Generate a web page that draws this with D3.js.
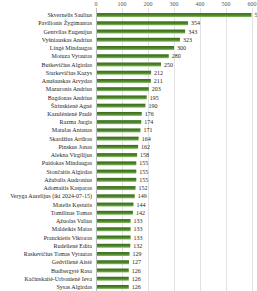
<!DOCTYPE html>
<html>
<head>
<meta charset="utf-8">
<script src="https://cdn.jsdelivr.net/npm/d3@7"></script>
<style>
  html, body { margin: 0; padding: 0; background: #fff; }
  svg { display: block; font-family: "Liberation Serif", "DejaVu Serif", serif; }
</style>
</head>
<body>
<div id="chart"></div>
<script>
const names = [
  'Skvernelis Saulius', 'Pavilionis Žygimantas', 'Gentvilas Eugenijus', 'Vyšniauskas Andrius',
  'Lingė Mindaugas', 'Motuza Vytautas', 'Butkevičius Algirdas', 'Starkevičius Kazys',
  'Anušauskas Arvydas', 'Mazuronis Andrius', 'Bagdonas Andrius', 'Širinskienė Agnė',
  'Kazulėnienė Paulė', 'Razma Jurgis', 'Matulas Antanas', 'Skardžius Artūras',
  'Pinskus Jonas', 'Alekna Virgilijus', 'Puidokas Mindaugas', 'Stončaitis Algirdas',
  'Ažubalis Audronius', 'Adomaitis Kasparas', 'Veryga Aurelijus (iki 2024-07-15)', 'Matelis Kęstutis',
  'Tomilinas Tomas', 'Ąžuolas Valius', 'Maldeikis Matas', 'Pranckietis Viktoras',
  'Rudelienė Edita', 'Raskevičius Tomas Vytautas', 'Gedvilienė Aistė', 'Budbergytė Rasa',
  'Kačinskaitė-Urbonienė Ieva', 'Sysas Algirdas'
];
const counts = [
  598, 354, 343, 323, 300, 280, 250, 212, 211, 203, 195, 190, 176, 174, 171, 164,
  162, 158, 155, 155, 155, 152, 149, 144, 142, 133, 133, 133, 132, 129, 127, 126, 126, 126
];
const ticks = [0, 100, 200, 300, 400, 500, 600];

const W = 257, H = 291;
const M = { top: 11, right: 5, bottom: 0, left: 96 };

const svg = d3.select('#chart').append('svg')
  .attr('width', W).attr('height', H).attr('viewBox', `0 0 ${W} ${H}`);

const x = d3.scaleLinear().domain([0, 600]).range([M.left, 252]);
const y = d3.scaleBand().domain(names).range([M.top, H - M.bottom]).paddingInner(0.52).paddingOuter(0.25);

const grad = svg.append('defs').append('linearGradient')
  .attr('id', 'bar-g').attr('x1', 0).attr('x2', 0).attr('y1', 0).attr('y2', 1);
grad.append('stop').attr('offset', '0%').attr('stop-color', '#3b6b1c');
grad.append('stop').attr('offset', '55%').attr('stop-color', '#4c8428');
grad.append('stop').attr('offset', '100%').attr('stop-color', '#86bd64');

/* grid */
svg.append('g').selectAll('line').data(ticks).join('line')
  .attr('x1', d => x(d) + 0.5).attr('x2', d => x(d) + 0.5)
  .attr('y1', 8).attr('y2', H)
  .attr('stroke', d => d === 0 ? '#bdbdbd' : '#e2e2e2').attr('stroke-width', 1);

svg.append('g').selectAll('text').data(ticks).join('text')
  .attr('x', d => x(d)).attr('y', 6)
  .attr('text-anchor', 'middle')
  .attr('font-size', '6px').attr('fill', '#595959')
  .text(d => d);

/* name labels */
svg.append('g').selectAll('text').data(names).join('text')
  .attr('x', M.left - 4)
  .attr('y', d => y(d) + y.bandwidth() / 2 + 2.1)
  .attr('text-anchor', 'end')
  .attr('font-size', '6px').attr('fill', '#262626')
  .text(d => d);

/* bars */
svg.append('g').selectAll('rect').data(counts).join('rect')
  .attr('x', x(0) + 1)
  .attr('y', (d, i) => y(names[i]))
  .attr('height', y.bandwidth())
  .attr('width', d => x(d) - x(0) - 1)
  .attr('fill', 'url(#bar-g)');

/* value labels */
svg.append('g').selectAll('text').data(counts).join('text')
  .attr('x', d => x(d) + 3)
  .attr('y', (d, i) => y(names[i]) + y.bandwidth() / 2 + 2.1)
  .attr('font-size', '6px').attr('fill', '#262626')
  .text(d => d);
</script>
</body>
</html>
